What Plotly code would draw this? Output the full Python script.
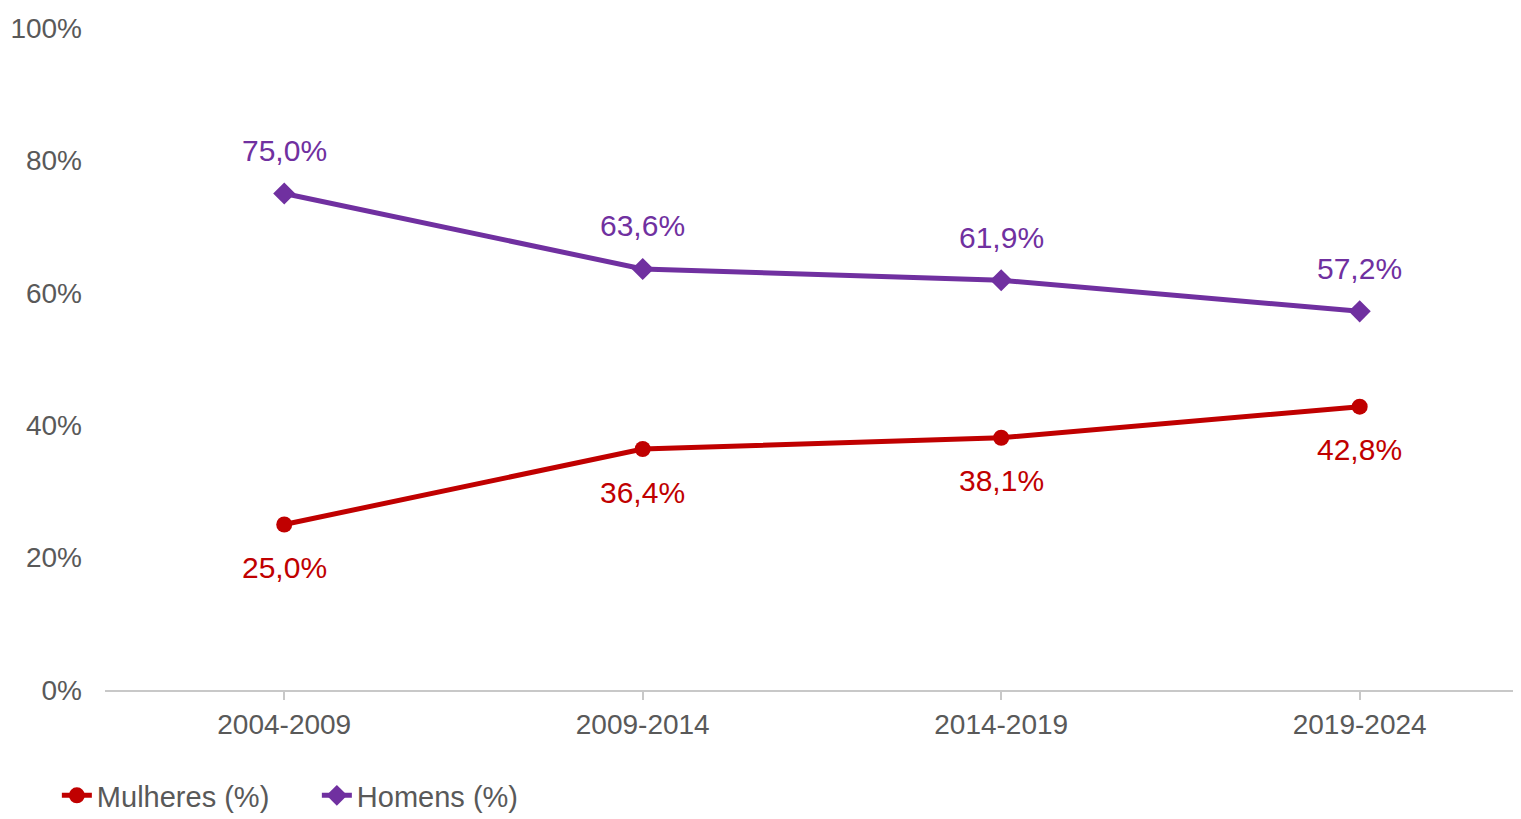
import plotly.graph_objects as go

periods = ["2004-2009", "2009-2014", "2014-2019", "2019-2024"]
mulheres = [25.0, 36.4, 38.1, 42.8]
homens = [75.0, 63.6, 61.9, 57.2]
y_ticks = [0, 20, 40, 60, 80, 100]

def fmt(v):
    return f"{v:.1f}".replace(".", ",") + "%"

FONT = "Liberation Sans, Arial, sans-serif"
RED = "#C00000"
PURPLE = "#7030A0"
GRAY = "#595959"

fig = go.Figure()
fig.add_trace(go.Scatter(
    x=periods, y=mulheres, name="Mulheres (%)", mode="lines+markers",
    line=dict(color=RED, width=5),
    marker=dict(symbol="circle", size=16, color=RED),
))
fig.add_trace(go.Scatter(
    x=periods, y=homens, name="Homens (%)", mode="lines+markers",
    line=dict(color=PURPLE, width=5),
    marker=dict(symbol="diamond", size=17, color=PURPLE),
))

for p, v in zip(periods, mulheres):
    fig.add_annotation(x=p, y=v, text=fmt(v), showarrow=False, yshift=-43,
                       font=dict(color=RED, size=30, family=FONT))
for p, v in zip(periods, homens):
    fig.add_annotation(x=p, y=v, text=fmt(v), showarrow=False, yshift=43,
                       font=dict(color=PURPLE, size=30, family=FONT))

fig.update_layout(
    width=1513, height=811,
    margin=dict(l=97, r=0, t=20, b=129),
    plot_bgcolor="white", paper_bgcolor="white",
    font=dict(family=FONT, size=28, color=GRAY),
    showlegend=True,
    legend=dict(orientation="h", x=-0.034, xanchor="left",
                yref="container", y=(811 - 762) / 811, yanchor="top",
                font=dict(size=29, color=GRAY, family=FONT),
                entrywidth=215, entrywidthmode="pixels", tracegroupgap=0),
    xaxis=dict(type="category", range=[-0.5, 3.45], showgrid=False,
               showline=True, linecolor="#C8C8C8", linewidth=2,
               ticks="outside", ticklen=8, tickcolor="#C8C8C8", tickwidth=2,
               tickfont=dict(size=28, color=GRAY, family=FONT)),
    yaxis=dict(range=[0, 100], tickvals=y_ticks, ticktext=[f"{v}%" for v in y_ticks],
               showgrid=False, zeroline=False, showline=False, ticks="",
               ticklabelstandoff=22,
               tickfont=dict(size=28, color=GRAY, family=FONT)),
)

fig.write_html("out.html")
